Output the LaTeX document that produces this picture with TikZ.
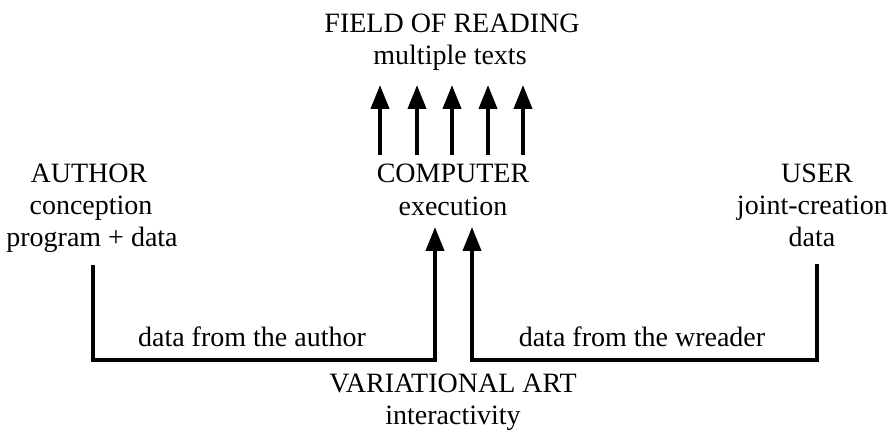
\documentclass[tikz,border=0pt]{standalone}
\usepackage{fontspec}
\setmainfont{Liberation Serif}
\usetikzlibrary{arrows.meta}
\tikzset{
  label text/.style={anchor=base, inner sep=0pt, font=\fontsize{28}{32}\selectfont},
  flow/.style={line width=4pt, line join=miter, -{Triangle[length=24pt,width=18pt]}},
}
\begin{document}
\begin{tikzpicture}[x=1pt, y=-1pt]
  \useasboundingbox (0,0) rectangle (892,435);

  % top: field of reading
  \node[label text] (field) at (452,33) {FIELD OF READING};
  \node[label text] (multi) at (450,65) {multiple texts};

  % centre: computer
  \node[label text] (comp) at (453,183) {COMPUTER};
  \node[label text] (exec) at (453,216) {execution};

  % left: author
  \node[label text] (author) at (89,183) {AUTHOR};
  \node[label text] (concep) at (91,215) {conception};
  \node[label text] (prog) at (92,247) {program + data};

  % right: user
  \node[label text] (user) at (817,183) {USER};
  \node[label text, anchor=base east] (joint) at (888,215) {joint-creation};
  \node[label text] (udata) at (812,247) {data};

  % bottom: variational art
  \node[label text] (var) at (453,393) {VARIATIONAL ART};
  \node[label text] (inter) at (453,425) {interactivity};

  % connector labels
  \node[label text] (fromA) at (252,347) {data from the author};
  \node[label text] (fromW) at (642,347) {data from the wreader};

  % fan of outputs from the computer to the field of reading
  \coordinate (fanBase) at (452,155);
  \coordinate (fanTop) at (452,85);
  \foreach \d in {-72,-35,0,36,71}
    \draw[flow] ([xshift=\d pt]fanBase) -- ([xshift=\d pt]fanTop);

  % data flows into the computer
  \coordinate (floor) at (0,360);
  \coordinate (aTop) at (93,265);
  \coordinate (aIn) at (435,227);
  \coordinate (uTop) at (817,264);
  \coordinate (uIn) at (472,227);
  \draw[flow] (aTop) -- (aTop |- floor) -- (aIn |- floor) -- (aIn);
  \draw[flow] (uTop) -- (uTop |- floor) -- (uIn |- floor) -- (uIn);
\end{tikzpicture}
\end{document}
